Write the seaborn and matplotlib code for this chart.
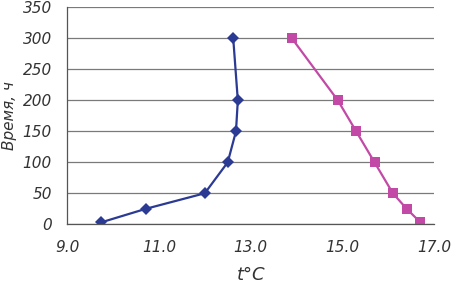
import numpy as np
import pandas as pd
import seaborn as sns
import matplotlib.pyplot as plt

# series 1 (blue diamonds)
temp_a = [9.74, 10.72, 12.0, 12.5, 12.68, 12.72, 12.62]
hours_a = [3, 25, 50, 100, 150, 200, 300]
# series 2 (magenta squares)
temp_b = [13.9, 14.9, 15.3, 15.7, 16.1, 16.4, 16.7]
hours_b = [300, 200, 150, 100, 50, 25, 3]

x_ticks = [9.0, 11.0, 13.0, 15.0, 17.0]
y_ticks = [0, 50, 100, 150, 200, 250, 300, 350]

df_a = pd.DataFrame({'t': temp_a, 'h': hours_a})
df_b = pd.DataFrame({'t': temp_b, 'h': hours_b})

sns.set_style('white')
plt.rcParams['font.family'] = ['DejaVu Sans']
plt.rcParams['font.style'] = 'italic'

fig, ax = plt.subplots(figsize=(4.57, 2.97), dpi=100)
fig.subplots_adjust(left=0.147, right=0.95, top=0.975, bottom=0.245)

sns.lineplot(ax=ax, data=df_a, x='t', y='h', sort=False, color='#2b3a92',
             marker='D', markersize=6, linewidth=1.6, markeredgewidth=0)
sns.lineplot(ax=ax, data=df_b, x='t', y='h', sort=False, color='#c24aa6',
             marker='s', markersize=7, linewidth=1.6, markeredgewidth=0)

ax.set_xlim(9.0, 17.0)
ax.set_ylim(0, 350)
ax.set_xticks(x_ticks)
ax.set_xticklabels(['%.1f' % v for v in x_ticks])
ax.set_yticks(y_ticks)
ax.grid(axis='y', color='#7a7a7a', linewidth=0.9)
ax.set_axisbelow(True)
for s in ['top', 'right']:
    ax.spines[s].set_visible(False)
for s in ['left', 'bottom']:
    ax.spines[s].set_color('#555555')
    ax.spines[s].set_linewidth(0.9)
ax.tick_params(axis='both', direction='out', length=5, color='#555555',
               labelsize=11, labelcolor='#333333', width=0.8, pad=6)
ax.set_xlabel('t°C', fontsize=13, color='#333333', labelpad=8)
ax.set_ylabel('Время, ч', fontsize=11, color='#333333', labelpad=4)

fig.savefig('out.png', dpi=100)
